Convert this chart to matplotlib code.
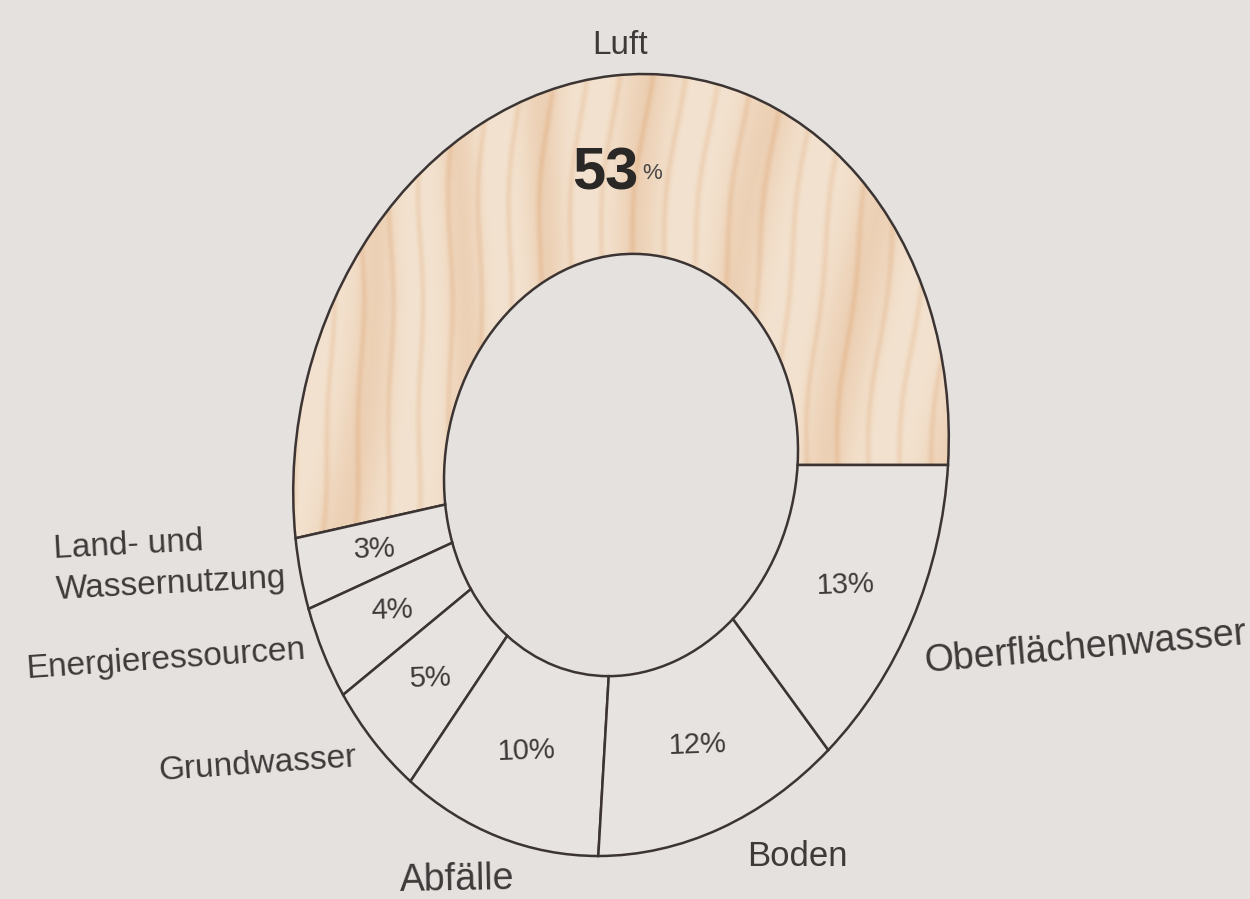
import numpy as np
import matplotlib
matplotlib.use('Agg')
import matplotlib.pyplot as plt
from matplotlib.patches import Wedge
from matplotlib.transforms import Affine2D

# Anteile der Umweltbereiche (Prozent), gegen den Uhrzeigersinn ab 3 Uhr
categories = ['Luft', 'Land- und\nWassernutzung', 'Energieressourcen',
              'Grundwasser', 'Abfälle', 'Boden', 'Oberflächenwasser']
shares = [53, 3, 4, 5, 10, 12, 13]

BG = '#e4e1de'
RING = '#e6e3e0'
EDGE = '#3b3432'
TEXT = '#3d3a3a'
WOOD_LIGHT = np.array([243, 226, 207]) / 255
WOOD_DARK = np.array([229, 188, 150]) / 255

plt.rcParams['font.family'] = ['Liberation Sans', 'DejaVu Sans']

fig = plt.figure(figsize=(12.5, 8.99), dpi=100, facecolor=BG)
ax = fig.add_axes([0, 0, 1, 1])
ax.axis('off')

# Einheitskreis -> leicht gescherte Ellipse auf der Seite
chart = Affine2D.from_values(327, 0, 22.7, -391, 621, 465) + ax.transData
inner = 0.54

bounds = np.concatenate([[0], np.cumsum(shares)]) * 3.6
wedges = []
for i, share in enumerate(shares):
    w = Wedge((0, 0), 1, bounds[i], bounds[i + 1], width=1 - inner,
              facecolor=RING, edgecolor=EDGE, linewidth=1.8,
              transform=chart, zorder=2)
    ax.add_patch(w)
    wedges.append(w)

# Holzmaserung fuer den Luft-Anteil
n = 500
xx, yy = np.meshgrid(np.linspace(-1, 1, n), np.linspace(-1, 1, n))
bands = 0.5 + 0.5 * np.sin(2 * np.pi * (xx * 3.2 + 0.25 * np.sin(yy * 2.2 + xx * 3)))
lines = 0.5 + 0.5 * np.sin(2 * np.pi * (xx * 10.5 + 0.3 * np.sin(yy * 3 + xx * 2)
                                        + 0.08 * np.sin(yy * 11)))
grain = 0.45 * bands ** 2 + 0.4 * lines ** 10
grain = np.clip(grain, 0, 1)
tex = WOOD_LIGHT * (1 - grain[..., None]) + WOOD_DARK * grain[..., None]
wedges[0].set_facecolor('none')
im = ax.imshow(tex, extent=(-1, 1, -1, 1), origin='lower',
               interpolation='bilinear', transform=chart, zorder=1)
im.set_clip_path(wedges[0])
ax.set_xlim(0, 1250)
ax.set_ylim(899, 0)

# Prozentwerte in den Segmenten
r = (1 + inner) / 2
for i in range(1, len(shares)):
    mid = np.deg2rad((bounds[i] + bounds[i + 1]) / 2)
    ax.text(r * np.cos(mid), r * np.sin(mid), f'{shares[i]}%',
            transform=chart, ha='center', va='center', fontsize=21,
            color=TEXT, rotation=2, zorder=3)

mid = np.deg2rad((bounds[0] + bounds[1]) / 2)
anchor = (r * np.cos(mid), r * np.sin(mid))
ax.annotate(str(shares[0]), anchor, xycoords=chart,
            xytext=(17, -6), textcoords='offset points',
            ha='right', va='center', fontsize=43, fontweight='bold',
            color='#2a2727', zorder=3)
ax.annotate('%', anchor, xycoords=chart,
            xytext=(20, -6), textcoords='offset points',
            ha='left', va='center', fontsize=16,
            color='#4a4646', zorder=3)

# Beschriftungen aussen: (x, y, ha, Drehung, Groesse)
label_layout = [
    (620, 45, 'center', 0, 24),
    (55, 570, 'left', 3, 24),
    (166, 660, 'center', 4, 24),
    (258, 765, 'center', 4, 24),
    (457, 880, 'center', 1, 27),
    (797, 857, 'center', 0, 25),
    (1085, 648, 'center', 5, 27),
]
for name, (x, y, ha, rot, size) in zip(categories, label_layout):
    ax.text(x, y, name, ha=ha, va='center', rotation=rot, fontsize=size,
            color=TEXT, linespacing=1.45, rotation_mode='anchor')

fig.savefig('out.png', dpi=100, facecolor=BG)
